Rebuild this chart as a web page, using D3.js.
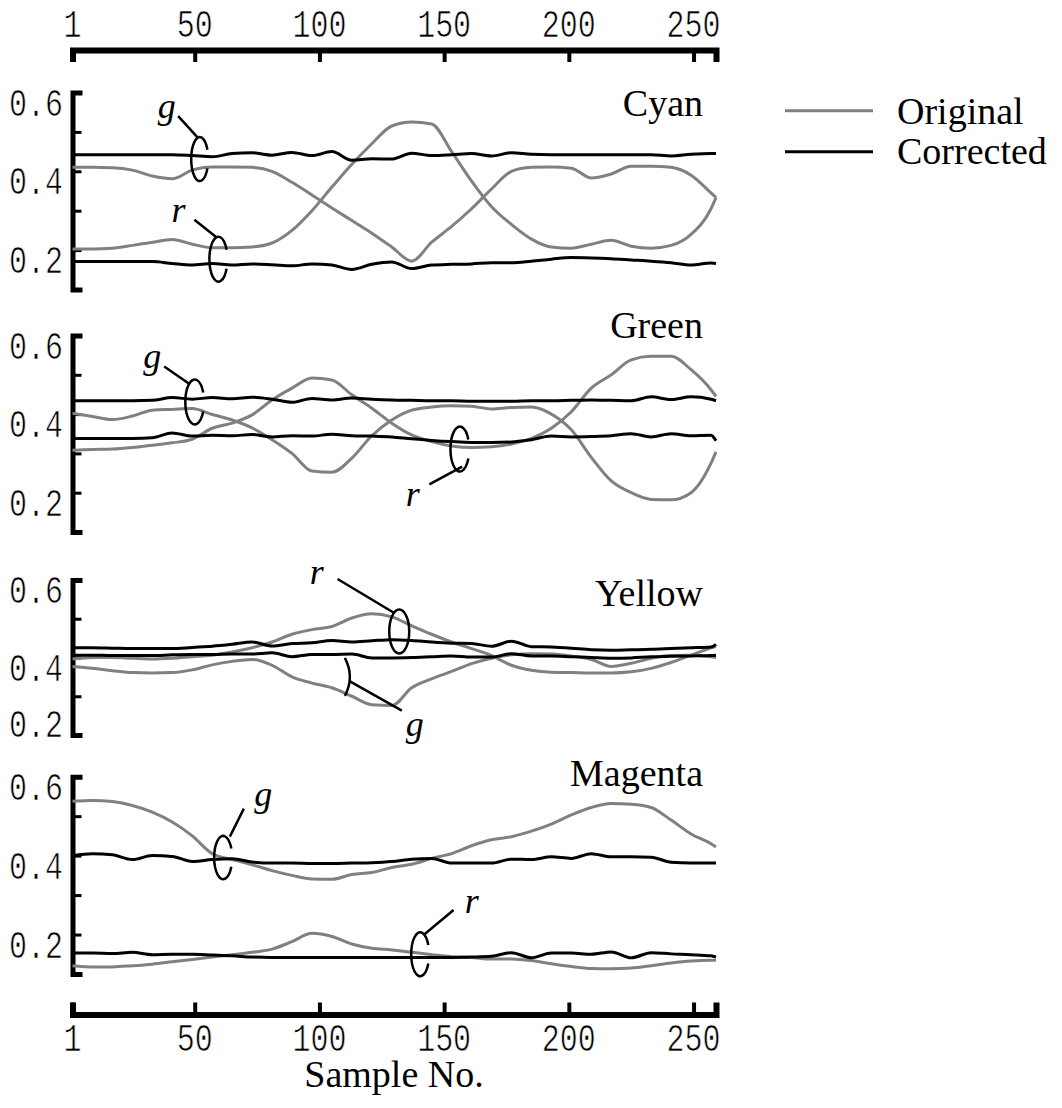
<!DOCTYPE html>
<html>
<head>
<meta charset="utf-8">
<script src="https://cdn.jsdelivr.net/npm/d3@7"></script>
<style>
  body { margin: 0; background: #fff; }
  svg { display: block; }
  /* thin white outline lightens the mono strokes to the weight of the figure */
  .num { font-family: "Liberation Mono", "DejaVu Sans Mono", monospace; font-size: 39px; fill: #000;
         stroke: #fff; stroke-width: 0.7px; }
  .serif { font-family: "Liberation Serif", "Times New Roman", serif; font-size: 38px; fill: #000; }
  .letter { font-family: "Liberation Serif", "Times New Roman", serif; font-style: italic; font-size: 36px; fill: #000; }
</style>
</head>
<body>
<svg id="chart" width="1062" height="1108"></svg>
<script>
// sample numbers the curves were read at
const samples = [1, 9, 17, 25, 33, 41, 49, 57, 65, 73, 81, 89, 97, 105, 113, 121, 129,
  137, 145, 153, 161, 169, 177, 185, 193, 201, 209, 217, 225, 233, 241, 249, 257, 259];
const xTicks = [1, 50, 100, 150, 200, 250];
const yLabels = [0.6, 0.4, 0.2];
const panelNames = ['Cyan', 'Green', 'Yellow', 'Magenta'];
const legendLabels = ['Original', 'Corrected'];

// Cyan
const cyanOrigR = [0.203, 0.203, 0.205, 0.212, 0.22, 0.227, 0.215, 0.206, 0.206, 0.208, 0.218, 0.25, 0.3, 0.36, 0.418, 0.47, 0.515,
  0.525, 0.52, 0.45, 0.375, 0.31, 0.265, 0.228, 0.208, 0.205, 0.215, 0.225, 0.21, 0.205, 0.212, 0.24, 0.305, 0.333];
const cyanOrigG = [0.41, 0.41, 0.409, 0.403, 0.388, 0.381, 0.403, 0.411, 0.411, 0.41, 0.4, 0.372, 0.34, 0.307, 0.275, 0.243, 0.208,
  0.172, 0.22, 0.26, 0.305, 0.355, 0.4, 0.41, 0.411, 0.408, 0.383, 0.393, 0.413, 0.413, 0.41, 0.39, 0.345, 0.333];
const cyanCorrR = [0.171, 0.171, 0.171, 0.171, 0.171, 0.166, 0.162, 0.166, 0.162, 0.165, 0.163, 0.16, 0.165, 0.162, 0.151, 0.164, 0.17,
  0.153, 0.162, 0.164, 0.165, 0.168, 0.168, 0.172, 0.177, 0.181, 0.18, 0.178, 0.175, 0.172, 0.168, 0.162, 0.167, 0.166];
const cyanCorrG = [0.442, 0.442, 0.442, 0.442, 0.442, 0.442, 0.44, 0.437, 0.445, 0.447, 0.441, 0.448, 0.44, 0.45, 0.428, 0.432, 0.431,
  0.446, 0.44, 0.442, 0.445, 0.439, 0.447, 0.443, 0.442, 0.442, 0.442, 0.442, 0.442, 0.442, 0.439, 0.443, 0.445, 0.445];

// Green
const greenOrigR = [0.308, 0.31, 0.311, 0.315, 0.321, 0.327, 0.336, 0.364, 0.377, 0.398, 0.436, 0.466, 0.492, 0.487, 0.449, 0.415, 0.377,
  0.347, 0.33, 0.319, 0.315, 0.317, 0.324, 0.338, 0.364, 0.406, 0.466, 0.5, 0.538, 0.547, 0.547, 0.513, 0.462, 0.445];
const greenOrigG = [0.402, 0.394, 0.386, 0.395, 0.41, 0.412, 0.414, 0.399, 0.385, 0.365, 0.335, 0.3, 0.255, 0.252, 0.288, 0.345, 0.385,
  0.41, 0.418, 0.421, 0.42, 0.413, 0.417, 0.418, 0.4, 0.36, 0.29, 0.23, 0.2, 0.183, 0.182, 0.2, 0.275, 0.304];
const greenCorrR = [0.338, 0.338, 0.338, 0.338, 0.34, 0.352, 0.344, 0.346, 0.345, 0.348, 0.342, 0.345, 0.344, 0.349, 0.345, 0.344, 0.342,
  0.337, 0.333, 0.33, 0.328, 0.328, 0.329, 0.335, 0.344, 0.342, 0.343, 0.345, 0.35, 0.342, 0.35, 0.345, 0.346, 0.332];
const greenCorrG = [0.434, 0.434, 0.434, 0.434, 0.435, 0.442, 0.438, 0.442, 0.439, 0.443, 0.438, 0.43, 0.44, 0.436, 0.441, 0.438, 0.436,
  0.435, 0.434, 0.434, 0.433, 0.433, 0.433, 0.434, 0.434, 0.435, 0.436, 0.435, 0.434, 0.444, 0.437, 0.444, 0.438, 0.434];

// Yellow
const yellowOrigR = [0.396, 0.4, 0.4, 0.398, 0.396, 0.398, 0.402, 0.406, 0.414, 0.425, 0.44, 0.46, 0.472, 0.48, 0.502, 0.513, 0.505,
  0.482, 0.46, 0.44, 0.423, 0.405, 0.38, 0.367, 0.362, 0.361, 0.36, 0.36, 0.363, 0.372, 0.387, 0.406, 0.425, 0.429];
const yellowOrigG = [0.377, 0.372, 0.366, 0.361, 0.36, 0.361, 0.368, 0.381, 0.39, 0.395, 0.38, 0.35, 0.334, 0.322, 0.3, 0.278, 0.276,
  0.322, 0.345, 0.364, 0.384, 0.398, 0.407, 0.41, 0.409, 0.404, 0.395, 0.377, 0.385, 0.398, 0.405, 0.406, 0.402, 0.4];
const yellowCorrR = [0.425, 0.425, 0.424, 0.423, 0.423, 0.423, 0.426, 0.429, 0.434, 0.44, 0.43, 0.436, 0.438, 0.444, 0.44, 0.443, 0.446,
  0.444, 0.44, 0.437, 0.436, 0.429, 0.442, 0.428, 0.427, 0.424, 0.42, 0.419, 0.42, 0.421, 0.423, 0.425, 0.427, 0.434];
const yellowCorrG = [0.406, 0.406, 0.405, 0.405, 0.405, 0.407, 0.408, 0.408, 0.409, 0.409, 0.412, 0.402, 0.408, 0.408, 0.409, 0.399, 0.399,
  0.4, 0.402, 0.404, 0.401, 0.401, 0.41, 0.404, 0.404, 0.402, 0.4, 0.398, 0.399, 0.402, 0.403, 0.404, 0.405, 0.406];

// Magenta
const magentaOrigR = [0.121, 0.118, 0.118, 0.121, 0.125, 0.131, 0.137, 0.143, 0.149, 0.155, 0.163, 0.182, 0.203, 0.195, 0.176, 0.165, 0.161,
  0.155, 0.149, 0.144, 0.142, 0.138, 0.138, 0.134, 0.126, 0.119, 0.114, 0.113, 0.115, 0.121, 0.128, 0.133, 0.135, 0.135];
const magentaOrigG = [0.538, 0.54, 0.537, 0.527, 0.51, 0.485, 0.45, 0.405, 0.39, 0.377, 0.362, 0.35, 0.341, 0.34, 0.352, 0.357, 0.37,
  0.378, 0.393, 0.405, 0.425, 0.44, 0.448, 0.462, 0.48, 0.503, 0.522, 0.532, 0.53, 0.522, 0.49, 0.455, 0.43, 0.422];
const magentaCorrR = [0.153, 0.153, 0.152, 0.155, 0.149, 0.15, 0.15, 0.148, 0.146, 0.143, 0.142, 0.142, 0.142, 0.142, 0.142, 0.142, 0.142,
  0.142, 0.142, 0.142, 0.143, 0.145, 0.154, 0.141, 0.153, 0.153, 0.15, 0.156, 0.141, 0.154, 0.151, 0.149, 0.146, 0.143];
const magentaCorrG = [0.4, 0.405, 0.402, 0.39, 0.4, 0.398, 0.385, 0.39, 0.392, 0.384, 0.381, 0.381, 0.38, 0.38, 0.381, 0.382, 0.385,
  0.391, 0.393, 0.381, 0.381, 0.381, 0.391, 0.39, 0.397, 0.393, 0.405, 0.397, 0.397, 0.396, 0.383, 0.381, 0.381, 0.381];

const grey = '#808080';

const panels = [
  { name: panelNames[0], top: 92.5, bottom: 289.5, domain: [0.1, 0.6], titleY: 116,
    orig: [cyanOrigR, cyanOrigG], corr: [cyanCorrR, cyanCorrG] },
  { name: panelNames[1], top: 335.5, bottom: 532, domain: [0.1, 0.6], titleY: 338,
    orig: [greenOrigR, greenOrigG], corr: [greenCorrR, greenCorrG] },
  { name: panelNames[2], top: 580, bottom: 735, domain: [0.2, 0.6], titleY: 606,
    orig: [yellowOrigR, yellowOrigG], corr: [yellowCorrR, yellowCorrG] },
  { name: panelNames[3], top: 776.7, bottom: 974, domain: [0.1, 0.6], titleY: 786,
    orig: [magentaOrigR, magentaOrigG], corr: [magentaCorrR, magentaCorrG] },
];

// r / g callouts: ring centred on (sample, value), rest in px from the ring centre
const callouts = [
  [{ t: 'g', s: 52, v: 0.431, rx: 8.5, ry: 22, shape: 'c', lx: -33, ly: -47, p: [-21.5, -43, -2, -21.5] },
   { t: 'r', s: 59.5, v: 0.177, rx: 9, ry: 22.5, shape: 'c', lx: -40, ly: -43, p: [-24, -39.5, -2, -22] }],
  [{ t: 'g', s: 50, v: 0.431, rx: 9.4, ry: 22.5, shape: 'c', lx: -42.5, ly: -40, p: [-30.5, -35.5, -4.5, -17.5] },
   { t: 'r', s: 156.3, v: 0.311, rx: 9.4, ry: 22.5, shape: 'c', lx: -47, ly: 51, p: [-30.5, 35.3, 2.3, 17.6] }],
  [{ t: 'r', s: 132, v: 0.467, rx: 10, ry: 22, shape: 'o', lx: -82.5, ly: -53.5, p: [-61.7, -52.5, -5.4, -18.8] },
   { t: 'g', s: 110.2, v: 0.35, rx: 5, ry: 19, shape: 'b', lx: 70, ly: 53, p: [57, 33.7, 4.6, 4.3] }],
  [{ t: 'g', s: 61.4, v: 0.395, rx: 9, ry: 21.7, shape: 'c', lx: 40, ly: -57.5, p: [20.7, -49, 6.7, -21] },
   { t: 'r', s: 140.4, v: 0.15, rx: 9, ry: 22, shape: 'c', lx: 51.5, ly: -47, p: [33.4, -44.3, 4.3, -20] }],
];

const svg = d3.select('#chart');
const x = d3.scaleLinear().domain([1, 259]).range([72.5, 716]);

// narrow the mono digits, the figure uses a tall condensed face
const numText = (sel, fmt) => sel.text(fmt)
  .attr('textLength', d => 18 * fmt(d).length).attr('lengthAdjust', 'spacingAndGlyphs');

// top and bottom sample axes
const topAxis = svg.append('g').attr('transform', 'translate(0,50)')
  .call(d3.axisBottom(x).tickValues(xTicks).tickSizeInner(12).tickSizeOuter(12).tickFormat(''));
topAxis.select('.domain').attr('stroke-width', 6);
topAxis.selectAll('.tick line').attr('stroke-width', 4);
svg.append('g').selectAll('text').data(xTicks).join('text')
  .attr('class', 'num').attr('text-anchor', 'middle')
  .attr('x', d => x(d)).attr('y', 37).call(numText, d => String(d));

const botAxis = svg.append('g').attr('transform', 'translate(0,1014.5)')
  .call(d3.axisTop(x).tickValues(xTicks).tickSizeInner(12).tickSizeOuter(12).tickFormat(''));
botAxis.select('.domain').attr('stroke-width', 6);
botAxis.selectAll('.tick line').attr('stroke-width', 4);
svg.append('g').selectAll('text').data(xTicks).join('text')
  .attr('class', 'num').attr('text-anchor', 'middle')
  .attr('x', d => x(d)).attr('y', 1051).call(numText, d => String(d));
svg.append('text').attr('class', 'serif').attr('text-anchor', 'middle')
  .attr('x', 394).attr('y', 1087).text('Sample No.');

const line = d3.line().x((d, i) => x(samples[i])).y(d => d).curve(d3.curveMonotoneX);

panels.forEach((p, pi) => {
  const y = d3.scaleLinear().domain(p.domain).range([p.bottom, p.top]);
  const g = svg.append('g');

  const ticks = d3.range(Math.round(p.domain[0] * 10), Math.round(p.domain[1] * 10) + 1).map(k => k / 10);
  const ax = g.append('g').attr('transform', 'translate(72.5,0)')
    .call(d3.axisRight(y).tickValues(ticks).tickSizeInner(9).tickSizeOuter(10).tickFormat(''));
  ax.select('.domain').attr('stroke-width', 5);
  ax.selectAll('.tick line').attr('stroke-width', 3);

  g.selectAll('text.ylab').data(yLabels).join('text')
    .attr('class', 'num ylab').attr('text-anchor', 'end').attr('x', 63)
    .attr('y', d => Math.min(y(d) + 23, p.bottom + 2)).call(numText, d => d.toFixed(1));

  g.append('text').attr('class', 'serif').attr('text-anchor', 'end')
    .attr('x', 703).attr('y', p.titleY).text(p.name);

  p.orig.forEach(vals => {
    g.append('path').attr('fill', 'none').attr('stroke', grey).attr('stroke-width', 3)
      .attr('stroke-linejoin', 'round').attr('d', line(vals.map(v => y(v))));
  });
  p.corr.forEach(vals => {
    g.append('path').attr('fill', 'none').attr('stroke', '#000').attr('stroke-width', 3)
      .attr('stroke-linejoin', 'round').attr('d', line(vals.map(v => y(v))));
  });

  callouts[pi].forEach(c => {
    const cx = x(c.s), cy = y(c.v);
    const a = 25 * Math.PI / 180;
    let d;
    if (c.shape === 'c') {
      const ex = c.rx * Math.cos(a), ey = c.ry * Math.sin(a);
      d = `M${cx + ex},${cy - ey} A${c.rx},${c.ry} 0 1 0 ${cx + ex},${cy + ey}`;
    } else if (c.shape === 'o') {
      d = `M${cx},${cy - c.ry} A${c.rx},${c.ry} 0 1 0 ${cx},${cy + c.ry} A${c.rx},${c.ry} 0 1 0 ${cx},${cy - c.ry}`;
    } else {
      d = `M${cx},${cy - c.ry} Q${cx + 2 * c.rx},${cy} ${cx},${cy + c.ry}`;
    }
    g.append('path').attr('d', d).attr('fill', 'none').attr('stroke', '#000').attr('stroke-width', 2.5);
    g.append('line').attr('x1', cx + c.p[0]).attr('y1', cy + c.p[1]).attr('x2', cx + c.p[2]).attr('y2', cy + c.p[3])
      .attr('stroke', '#000').attr('stroke-width', 2.5);
    g.append('text').attr('class', 'letter').attr('text-anchor', 'middle')
      .attr('x', cx + c.lx).attr('y', cy + c.ly + 6).text(c.t);
  });
});

// legend
const legend = svg.append('g');
[grey, '#000'].forEach((col, i) => {
  legend.append('line').attr('x1', 785).attr('x2', 873).attr('y1', 110.7 + i * 41).attr('y2', 110.7 + i * 41)
    .attr('stroke', col).attr('stroke-width', 3);
  legend.append('text').attr('class', 'serif').attr('x', 897).attr('y', 124 + i * 40).text(legendLabels[i]);
});
</script>
</body>
</html>
